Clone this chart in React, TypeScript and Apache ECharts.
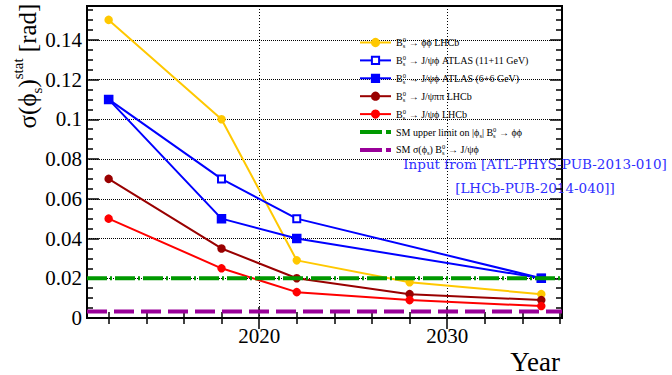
import React, { useEffect, useRef } from "react";
import * as echarts from "echarts";

// ---- data ----
const years = [2012, 2018, 2022, 2028, 2035];
const atlasYears = [2012, 2018, 2022, 2035];
const phiPhiLHCb = [0.15, 0.1, 0.029, 0.018, 0.012];
const atlas11 = [0.11, 0.07, 0.05, 0.02];
const atlas6 = [0.11, 0.05, 0.04, 0.02];
const jpsiPiPiLHCb = [0.07, 0.035, 0.02, 0.012, 0.009];
const jpsiPhiLHCb = [0.05, 0.025, 0.013, 0.009, 0.006];
const smUpperLimit = 0.02;
const smSigma = 0.0033;
const xMin = 2010.85;
const xMax = 2036.1;
const yMin = 0;
const yMax = 0.157;
const xMajorTicks = [2020, 2030];
const xMinorTicks = [2012, 2014, 2016, 2018, 2022, 2024, 2026, 2028, 2032, 2034, 2036];
const yMajorTicks = [0, 0.02, 0.04, 0.06, 0.08, 0.1, 0.12, 0.14];
const yMinorTicks = [
  0.005, 0.01, 0.015, 0.025, 0.03, 0.035, 0.045, 0.05, 0.055, 0.065, 0.07, 0.075,
  0.085, 0.09, 0.095, 0.105, 0.11, 0.115, 0.125, 0.13, 0.135, 0.145, 0.15, 0.155,
];
const yLabelText: Record<string, string> = {
  "0": "0", "0.02": "0.02", "0.04": "0.04", "0.06": "0.06", "0.08": "0.08",
  "0.1": "0.1", "0.12": "0.12", "0.14": "0.14",
};

const names = ["phiphi", "atlas11", "atlas6", "pipi", "jpsiphi", "smup", "smsig"];
const BS = "B{sup|0}{sub|s}";
const legendLabels: Record<string, string> = {
  phiphi: `${BS} → ϕϕ LHCb`,
  atlas11: `${BS} → J/ψϕ ATLAS (11+11 GeV)`,
  atlas6: `${BS} → J/ψϕ ATLAS (6+6 GeV)`,
  pipi: `${BS} → J/ψππ LHCb`,
  jpsiphi: `${BS} → J/ψϕ LHCb`,
  smup: `SM upper limit on |ϕ{sub2|s}| ${BS} → ϕϕ`,
  smsig: `SM σ(ϕ{sub2|s}) ${BS} → J/ψϕ`,
};
const DASH_ICON = "path://M0,0H22V4H0Z M26,0H31V4H26Z";

const SERIF = "'Liberation Serif', 'Times New Roman', serif";

function pairs(xs: number[], ys: number[]) {
  return xs.map((x, i) => [x, ys[i]]);
}

export default function App() {
  const ref = useRef<HTMLDivElement>(null);
  useEffect(() => {
    if (!ref.current) return;
    const chart = echarts.init(ref.current, undefined, { renderer: "svg" });
    const grid = { left: 87, right: 110, top: 6, bottom: 54 };
    const dotted = () => ({ type: [1, 2], color: "#000", width: 1, opacity: 1 });
    const tickLine = () => ({ color: "#000", width: 1.5 });
    const xBase = () => ({
      type: "value", min: xMin, max: xMax, gridIndex: 0,
      axisLine: { show: false },
    });
    const yBase = () => ({
      type: "value", min: yMin, max: yMax, gridIndex: 0,
      axisLine: { show: false },
    });
    const lineSeries = (name: string, data: any[], color: string, symbol: string, size: number) => ({
      name, type: "line", data, symbol, symbolSize: size,
      lineStyle: { color, width: 2 }, itemStyle: { color, borderColor: color, borderWidth: 1.5 },
      xAxisIndex: 0, yAxisIndex: 0, z: 3,
    });
    const option: any = {
      animation: false,
      grid: { ...grid, show: true, borderColor: "#000", borderWidth: 2, backgroundColor: "transparent" },
      xAxis: [
        {
          ...xBase(), position: "bottom",
          axisTick: { show: true, inside: true, length: 11, lineStyle: tickLine(), customValues: xMajorTicks },
          axisLabel: {
            show: true, customValues: xMajorTicks, fontFamily: SERIF, fontSize: 21, color: "#000", margin: 7,
            formatter: (v: number) => String(Math.round(v)),
          },
          splitLine: { show: true, lineStyle: dotted() },
          name: "Year", nameLocation: "end", nameGap: -2,
          nameTextStyle: { fontFamily: SERIF, fontSize: 27, color: "#000", align: "right", verticalAlign: "top", padding: [30, 0, 0, 0] },
        },
        {
          ...xBase(), position: "bottom",
          axisTick: { show: true, inside: true, length: 6, lineStyle: tickLine(), customValues: xMinorTicks },
          axisLabel: { show: false }, splitLine: { show: false },
        },
        {
          ...xBase(), position: "top",
          axisTick: { show: true, inside: true, length: 11, lineStyle: tickLine(), customValues: xMajorTicks },
          axisLabel: { show: false }, splitLine: { show: false },
        },
        {
          ...xBase(), position: "top",
          axisTick: { show: true, inside: true, length: 6, lineStyle: tickLine(), customValues: xMinorTicks },
          axisLabel: { show: false }, splitLine: { show: false },
        },
      ],
      yAxis: [
        {
          ...yBase(), position: "left",
          axisTick: { show: true, inside: true, length: 12, lineStyle: tickLine(), customValues: yMajorTicks },
          axisLabel: {
            show: true, customValues: yMajorTicks, fontFamily: SERIF, fontSize: 21, color: "#000", margin: 5,
            formatter: (v: number) => yLabelText[String(Math.round(v * 1000) / 1000)] ?? "",
          },
          splitLine: { show: true, lineStyle: { type: "dotted", color: "#000", width: 1 } },
        },
        {
          ...yBase(), position: "left",
          axisTick: { show: true, inside: true, length: 6, lineStyle: tickLine(), customValues: yMinorTicks },
          axisLabel: { show: false }, splitLine: { show: false },
        },
        {
          ...yBase(), position: "right",
          axisTick: { show: true, inside: true, length: 12, lineStyle: tickLine(), customValues: yMajorTicks },
          axisLabel: { show: false }, splitLine: { show: false },
        },
        {
          ...yBase(), position: "right",
          axisTick: { show: true, inside: true, length: 6, lineStyle: tickLine(), customValues: yMinorTicks },
          axisLabel: { show: false }, splitLine: { show: false },
        },
      ],
      legend: {
        data: names.map((n) => (n === "smup" || n === "smsig" ? { name: n, icon: DASH_ICON } : { name: n })),
        orient: "vertical",
        left: 354,
        top: 31,
        itemWidth: 31,
        itemHeight: 9,
        itemGap: 4.9,
        itemTextGap: 8,
        formatter: (n: string) => legendLabels[n],
        textStyle: {
          fontFamily: SERIF, fontSize: 10, color: "#000", lineHeight: 13,
          rich: {
            sup: { fontFamily: SERIF, fontSize: 6.5, lineHeight: 3, verticalAlign: "top", width: 0, color: "#000" },
            sub: { fontFamily: SERIF, fontSize: 6.5, lineHeight: 3, verticalAlign: "bottom", color: "#000", padding: [0, 1, 0, 0] },
            sub2: { fontFamily: SERIF, fontSize: 6.5, lineHeight: 3, verticalAlign: "bottom", color: "#000" },
          },
        },
      },
      series: [
        lineSeries("phiphi", pairs(years, phiPhiLHCb), "#ffc800", "circle", 7),
        lineSeries("atlas11", pairs(atlasYears, atlas11), "#0000ff", "emptyRect", 7),
        lineSeries("atlas6", pairs(atlasYears, atlas6), "#0000ff", "rect", 8),
        lineSeries("pipi", pairs(years, jpsiPiPiLHCb), "#990000", "circle", 7),
        lineSeries("jpsiphi", pairs(years, jpsiPhiLHCb), "#ff0000", "circle", 7),
        {
          name: "smup", type: "line", symbol: "none", z: 4,
          data: [[xMin, smUpperLimit], [xMax, smUpperLimit]],
          lineStyle: { color: "#009900", width: 4, type: [20, 3, 2, 3] },
          itemStyle: { color: "#009900" },
        },
        {
          name: "smsig", type: "line", symbol: "none", z: 4,
          data: [[xMin, smSigma], [xMax, smSigma]],
          lineStyle: { color: "#990099", width: 4, type: [20, 7] },
          itemStyle: { color: "#990099" },
        },
      ],
      graphic: [
        {
          type: "text", x: 27, y: 66, rotation: Math.PI / 2,
          style: {
            text: "{m|σ(ϕ}{sb|s}{m|)}{sp|stat}{m| [rad]}",
            align: "center", verticalAlign: "middle",
            rich: {
              m: { fontFamily: SERIF, fontSize: 25, lineHeight: 34, fill: "#000" },
              sb: { fontFamily: SERIF, fontSize: 15, lineHeight: 14, verticalAlign: "bottom", fill: "#000" },
              sp: { fontFamily: SERIF, fontSize: 15, lineHeight: 14, verticalAlign: "top", fill: "#000" },
            },
          },
        },
        {
          type: "text", x: 535, y: 164,
          style: {
            text: "Input from [ATL-PHYS-PUB-2013-010]",
            fontFamily: "'DejaVu Serif', serif", fontSize: 13.5, fill: "#2f2fff",
            align: "center", verticalAlign: "middle",
          },
        },
        {
          type: "text", x: 535, y: 188,
          style: {
            text: "[LHCb-PUB-2014-040]]",
            fontFamily: "'DejaVu Serif', serif", fontSize: 13.5, fill: "#2f2fff",
            align: "center", verticalAlign: "middle",
          },
        },
      ],
    };
    chart.setOption(option);
    return () => chart.dispose();
  }, []);
  return <div ref={ref} style={{ width: 672, height: 375, position: "absolute", left: 0, top: 0, background: "#fff" }} />;
}
